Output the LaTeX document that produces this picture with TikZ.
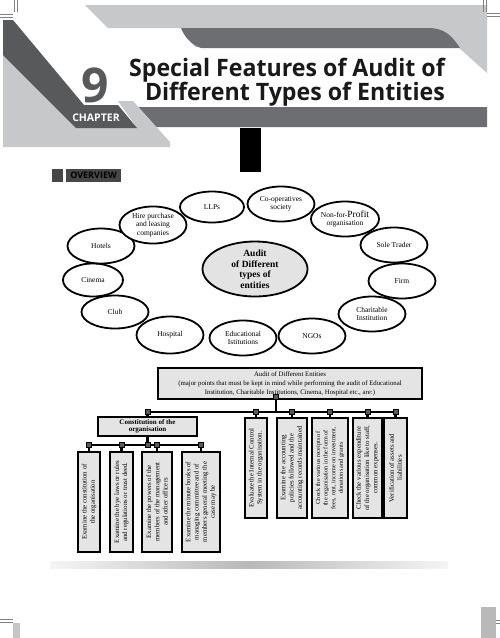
\documentclass[tikz,border=0pt]{standalone}
\usepackage{fontspec}
\setmainfont{Liberation Serif}
\newfontfamily\hdfont{Open Sans}
\usetikzlibrary{shapes.geometric}
\definecolor{lgrey}{HTML}{C7C8CA}
\definecolor{mgrey}{HTML}{6D6E71}
\definecolor{dgrey}{HTML}{58595B}
\definecolor{boxgrey}{HTML}{E4E4E4}
\begin{document}
\begin{tikzpicture}[x=1pt,y=-1pt,
  ent/.style={ellipse, draw=black, line width=1.8pt, fill=white, minimum width=67pt, minimum height=35pt, inner sep=0pt, align=center, font=\fontsize{7.5}{8.6}\selectfont},
  hub/.style={ent, fill=gray!22, minimum width=105pt, minimum height=55pt, font=\bfseries\fontsize{9.5}{10.5}\selectfont},
  tbox/.style={rectangle, draw=black, line width=1.3pt, fill=boxgrey, inner sep=1pt, align=center, font=\fontsize{6.8}{9}\selectfont},
  vbox/.style={tbox, rotate=90, minimum width=100pt, font=\fontsize{6.8}{8.2}\selectfont},
  conn/.style={line width=2.2pt, black},
  jsq/.style={rectangle, fill=dgrey, draw=black, line width=0.4pt, minimum size=5pt, inner sep=0pt}]
\useasboundingbox (0,0) rectangle (500,638);
\fill[white] (0,0) rectangle (500,638);
% ---------- header ----------
\fill[lgrey] (85,5) -- (487,5) -- (487,73) -- (458,47) -- (195,47) -- (181,28) -- (108,28) -- cycle;
\fill[mgrey] (181,28) -- (428,28) .. controls (445,28) and (452,36) .. (460,48) -- (201,48) .. controls (192,45) and (185,38) .. (181,28) -- cycle;
\fill[mgrey] (138,107) -- (487,107) -- (487,127) -- (156,127) -- cycle;
\fill[lgrey] (3,55) -- (76,128) -- (137,128) -- (118,101) -- (133,101) -- (170,142) -- (170,147) -- (3,147) -- cycle;
\fill[dgrey] (3,20) -- (13,20) -- (84,105) -- (53,105) -- (3,55) -- cycle;
\fill[dgrey] (53,105) -- (118,105) -- (137,128) -- (76,128) -- cycle;
\node[text=dgrey, font=\hdfont\bfseries\fontsize{48}{48}\selectfont, inner sep=0pt] (nine) at (95.5,85) {9};
\node[text=white, font=\hdfont\bfseries\fontsize{10.5}{11}\selectfont, inner sep=0pt] (chap) at (96,117.5) {CHAPTER};
\node[anchor=base east, inner sep=0pt, text=black!90, font=\hdfont\bfseries\fontsize{24}{24}\selectfont] (t1) at (445,76) {\scalebox{0.965}[1]{Special Features of Audit of}};
\node[anchor=base east, inner sep=0pt, text=black!90, font=\hdfont\bfseries\fontsize{24}{24}\selectfont] (t2) at (445,100) {\scalebox{0.965}[1]{Different Types of Entities}};
\fill[black] (240,128) rectangle (261,172);
% crop marks
\draw[gray, line width=0.6pt] (0,14) -- (13,14) (0,17) -- (13,17) (14,0) -- (14,12) (17,0) -- (17,12);
\draw[gray, line width=0.6pt] (483,0) -- (483,12) (486,0) -- (486,12) (487,13) -- (500,13) (487,16) -- (500,16);
\draw[gray, line width=0.6pt] (0,619) -- (13,619) (0,622) -- (13,622);
\fill[gray!45] (13,623) rectangle (20,638);
\fill[gray!55] (481,607) rectangle (496,638);
\draw[gray, line width=0.6pt] (496,620) -- (500,620) (496,623) -- (500,623);
% ---------- overview label ----------
\fill[dgrey!80!black] (52,169) rectangle (63,182);
\node[fill=dgrey!80!black, minimum width=55pt, minimum height=13pt, inner sep=0pt, text=black, font=\hdfont\bfseries\fontsize{9}{9}\selectfont] (ov) at (93.5,175.5) {OVERVIEW};
% ---------- ellipse diagram ----------
\node[ent, minimum width=64pt, minimum height=31pt] (llp) at (212,207) {LLPs};
\node[ent] (coop) at (281,204) {Co-operatives\\society};
\node[ent] (nfp) at (345,219) {Non-for-{\fontsize{9.5}{9.5}\selectfont Profit}\\organisation};
\node[ent] (sole) at (394,245) {Sole Trader};
\node[ent] (firm) at (402,281) {Firm};
\node[ent] (char) at (372,314) {Charitable\\Institution};
\node[ent] (ngo) at (312,336) {NGOs};
\node[ent] (edu) at (243,338) {Educational\\Istitutions};
\node[ent, minimum height=37pt] (hosp) at (170,335) {Hospital};
\node[ent, minimum height=33pt] (club) at (115,312) {Club};
\node[ent, minimum width=60pt, minimum height=33pt] (cin) at (93,280) {Cinema};
\node[ent] (hot) at (101,246) {Hotels};
\node[ent, minimum height=37pt] (hire) at (153,225) {Hire purchase\\and leasing\\companies};
\node[hub] (hub) at (255,269) {Audit\\of Different\\types of\\entities};
% ---------- tree ----------
\node[tbox, minimum width=264pt, minimum height=31pt] (top) at (290,383.5) {Audit of Different Entities\\(major points that must be kept in mind while performing the audit of Educational\\Institution, Charitable Institutions, Cinema, Hospital etc., are:)};
\node[tbox, minimum width=99pt, minimum height=19pt, font=\bfseries\fontsize{7}{7.2}\selectfont] (cons) at (147.5,426.5) {Constitution of the\\organisation};
\node[vbox, minimum height=22pt] (sa) at (89,502) {Examine the constitution of\\the organisation};
\node[vbox, minimum height=23pt] (sb) at (121.5,502) {Examine the bye laws or rules\\and regulations or trust deed.};
\node[vbox, minimum height=30pt] (sc) at (157,502) {Examine the powers of the\\members of the management\\and other officers};
\node[vbox, minimum height=38pt] (sd) at (201,502) {Examine the minute books of\\managing committee and of\\members general meeting the\\case may be};
\node[vbox, minimum height=22pt] (ra) at (256,468) {Evaluate the Internal Control\\System in the organisation.};
\node[vbox, minimum height=30pt] (rb) at (292,468) {Examine the accounting\\policies followed and the\\accounting records maintained};
\node[vbox, minimum height=36pt, font=\fontsize{6.2}{7.6}\selectfont] (rc) at (330,468) {Check the various receipts of\\the organisation in the form of\\fees, rent, income on investment,\\donations and grants};
\node[vbox, minimum height=29pt] (rd) at (367.5,468) {Check the various expenditure\\of the organisation like to staff,\\common expenses.};
\node[vbox, minimum height=23pt] (re) at (395.5,468) {Verification of assets and\\liabilities};
\coordinate (b1) at (0,412);
\coordinate (b2) at (0,445);
\coordinate (tdrop) at ([xshift=-14pt]top.south);
\draw[conn] (tdrop) -- (tdrop |- b1);
\draw[conn] (cons.north |- b1) -- (re.east |- b1);
\draw[conn] (cons.north |- b1) -- (cons.north);
\foreach \n in {ra,rb,rc,rd,re} {\draw[conn] (\n.east |- b1) -- (\n.east);}
\draw[conn] (cons.south) -- (cons.south |- b2);
\draw[conn] (sa.east |- b2) -- (sd.east |- b2);
\foreach \n in {sa,sb,sc,sd} {\draw[conn] (\n.east |- b2) -- (\n.east);}
\node[jsq] (j0) at ([yshift=3pt]tdrop) {};
\node[jsq] (j1) at (cons.north |- b1) {};
\foreach \n in {ra,rb,rc,rd,re} {\node[jsq] at (\n.east |- b1) {};}
\node[jsq] (j2) at (cons.south |- b2) {};
\foreach \n in {sa,sb,sc,sd} {\node[jsq] at (\n.east |- b2) {};}
% ---------- bottom rule ----------
\shade[left color=gray!8, right color=gray!8, middle color=gray!55] (50,561) rectangle (448,568);
\end{tikzpicture}
\end{document}
